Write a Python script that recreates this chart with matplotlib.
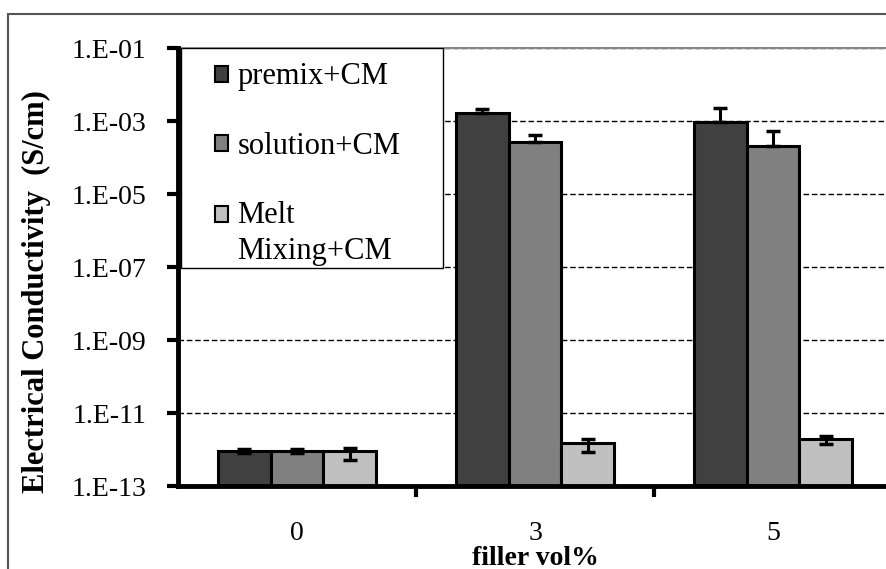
import matplotlib
matplotlib.use('Agg')
import matplotlib.pyplot as plt
from matplotlib.patches import Rectangle
from matplotlib.legend_handler import HandlerPatch
from matplotlib.ticker import FixedLocator, FuncFormatter, NullLocator
import numpy as np

plt.rcParams['font.family'] = ['Liberation Serif', 'DejaVu Serif']

# conductivity (S/cm) for each filler loading
fillers = ['0', '3', '5']
series = ['premix+CM', 'solution+CM', 'Melt\nMixing+CM']
premix = [8.0e-13, 1.66e-3, 9.3e-4]
premix_err = [2.2e-13, 4.8e-4, 1.36e-3]
solution = [8.0e-13, 2.6e-4, 2.1e-4]
solution_err = [2.2e-13, 1.6e-4, 3.3e-4]
melt = [8.0e-13, 1.4e-12, 1.9e-12]
melt_err = [2.8e-13, 5.7e-13, 5.0e-13]

colors = ['#404040', '#808080', '#c0c0c0']

fig = plt.figure(figsize=(8.86, 5.69), dpi=100)
ax = fig.add_axes([178 / 886, 1 - 486 / 569, 714 / 886, 438 / 569])

# outer chart border
fig.patches.append(Rectangle((8 / 886, -0.2), 1.2, 0.2 + 1 - 14 / 569,
                             transform=fig.transFigure, fill=False,
                             edgecolor='#555555', lw=1.5, zorder=0))

x = np.arange(len(fillers))
w = 2 / 9
vals = [premix, solution, melt]
errs = [premix_err, solution_err, melt_err]
bars = []
for i, (v, e) in enumerate(zip(vals, errs)):
    pos = x + (i - 1) * w
    b = ax.bar(pos, v, w, bottom=1e-13, color=colors[i], edgecolor='black',
               lw=2.2, zorder=3)
    bars.append(b)
    if i < 2:
        yerr = [np.zeros(len(e)), e]
    else:
        yerr = e
    ax.errorbar(pos, v, yerr=yerr, fmt='none', ecolor='black', elinewidth=2.2,
                capsize=5, capthick=2.5, zorder=4)

ax.set_yscale('log')
ax.set_ylim(1e-13, 1e-1)
ax.set_xlim(-0.5, 2.5)
ax.yaxis.set_major_locator(FixedLocator([10.0 ** k for k in range(-13, 0, 2)]))
ax.yaxis.set_minor_locator(NullLocator())
ax.yaxis.set_major_formatter(FuncFormatter(lambda v, p: '1.E%03d' % round(np.log10(v))))

ax.set_xticks(x)
ax.set_xticklabels(fillers)
ax.set_xticks([0.5, 1.5, 2.5], minor=True)
ax.tick_params(axis='x', which='major', length=0, pad=25, labelsize=20)
ax.tick_params(axis='x', which='minor', length=8, width=3, direction='out')
ax.tick_params(axis='y', which='major', length=8, width=3, direction='out',
               pad=15, labelsize=20)

for yv in [10.0 ** k for k in range(-11, 0, 2)]:
    ax.axhline(yv, color='black', lw=1, ls=(0, (4, 2)), zorder=1)

ax.spines['left'].set_linewidth(3.5)
ax.spines['bottom'].set_linewidth(3.5)
ax.spines['top'].set_color('#888888')
ax.spines['top'].set_linewidth(1.5)
ax.spines['right'].set_color('#888888')
ax.spines['right'].set_linewidth(1.5)
ax.spines['left'].set_zorder(5)
ax.spines['bottom'].set_zorder(5)

ax.set_ylabel('Electrical Conductivity  (S/cm)', fontsize=22, fontweight='bold')
ax.yaxis.set_label_coords(-0.178, 0.443)
ax.set_xlabel('filler vol%', fontsize=20, fontweight='bold', va='top')
ax.xaxis.set_label_coords(0.5, -0.137)


# legend square sits beside the first line of a multi-line label
def square_handler(label):
    extra = label.count('\n')

    def make(legend, orig_handle, xdescent, ydescent, width, height, fontsize):
        shift = 0.65 * fontsize * extra
        return Rectangle((-xdescent, -ydescent + shift), width, height)
    return HandlerPatch(patch_func=make)


handles = [b.patches[0] for b in bars]
ax.add_patch(Rectangle((0.004, 0.498), 0.367, 0.502, transform=ax.transAxes,
                       facecolor='white', edgecolor='black', lw=1, zorder=6))
leg = ax.legend(handles, series, loc='upper left', bbox_to_anchor=(0.052, 0.967),
                frameon=False, fontsize=22, handlelength=0.43, handleheight=0.43,
                handletextpad=0.3, labelspacing=1.32, borderpad=0,
                borderaxespad=0,
                handler_map={h: square_handler(s) for h, s in zip(handles, series)})
leg.set_zorder(7)
for t in leg.get_texts():
    t.set_linespacing(1.3)
for h in leg.legend_handles:
    h.set_linewidth(1.5)

fig.savefig('out.png', dpi=100)
